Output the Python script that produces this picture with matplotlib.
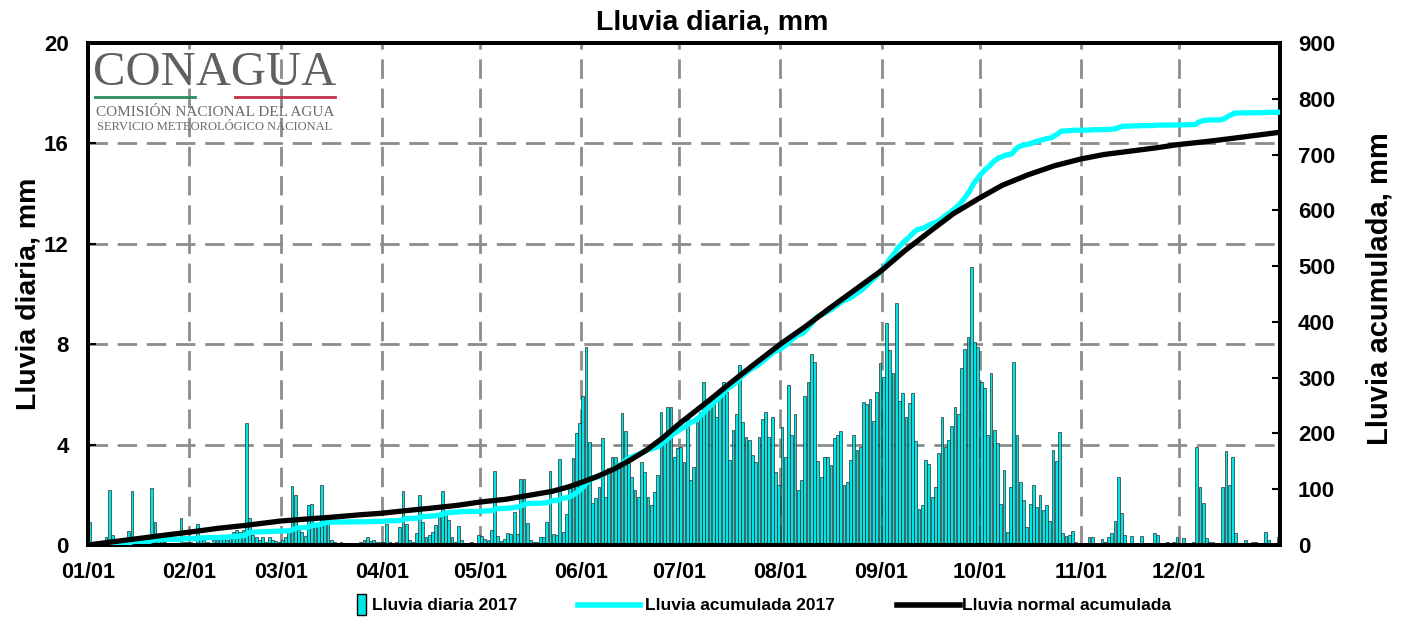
import numpy as np
import matplotlib
matplotlib.use("Agg")
import matplotlib.pyplot as plt
from matplotlib.patches import Rectangle
from matplotlib.lines import Line2D

# daily rain 2017 (mm), one list per month
JAN = [0.9, 0, 0, 0, 0.1, 0.3, 2.2, 0.4, 0, 0, 0, 0, 0.57, 2.15, 0, 0, 0, 0, 0, 2.26,
       0.93, 0.2, 0.15, 0.1, 0, 0, 0, 0, 1.09, 0.1, 0.1]
FEB = [0.1, 0, 0.84, 0.3, 0.2, 0.1, 0, 0.2, 0.2, 0.3, 0.3, 0.2, 0.3, 0.5, 0.6, 0.5,
       0.6, 4.87, 1.09, 0.4, 0.3, 0.2, 0.3, 0.1, 0.3, 0.2, 0.15, 0.1]
MAR = [0.2, 0.3, 0.6, 2.35, 2.0, 0.6, 0.5, 0.35, 1.6, 1.65, 0.8, 0.8, 2.4, 1.0, 0.85,
       0.2, 0.1, 0.05, 0.1, 0, 0.05, 0, 0.05, 0, 0.1, 0.2, 0.3, 0.15, 0.2, 0.1, 0.1]
APR = [0.1, 0.84, 0.1, 0.05, 0.1, 0.7, 2.15, 0.84, 0.2, 0.1, 0.47, 2.0, 0.93, 0.3, 0.4,
       0.5, 0.8, 1.1, 2.15, 1.2, 1.0, 0.3, 0.1, 0.77, 0.2, 0.05, 0.05, 0.1, 0.05, 0.4]
MAY = [0.36, 0.25, 0.2, 0.6, 2.95, 0.36, 0.15, 0.25, 0.48, 0.42, 1.33, 0.45, 2.63, 2.63,
       0.86, 0.2, 0.1, 0.1, 0.33, 0.3, 0.9, 2.95, 0.45, 0.4, 3.41, 0.5, 1.25, 2.26, 3.45,
       4.47, 4.87]
JUN = [5.95, 7.9, 4.12, 1.67, 1.86, 2.3, 4.25, 1.9, 3.05, 3.5, 3.5, 3.1, 5.25, 4.54, 3.25,
       2.7, 2.2, 1.9, 3.3, 2.9, 1.9, 1.6, 2.1, 2.8, 5.3, 4.05, 5.5, 5.5, 3.5, 3.85]
JUL = [3.9, 3.3, 5.0, 2.6, 3.1, 4.9, 5.3, 6.5, 5.6, 5.8, 5.9, 5.1, 6.0, 6.5, 6.1, 3.4,
       4.6, 5.2, 7.17, 4.9, 4.3, 4.2, 3.6, 3.3, 4.3, 5.0, 5.3, 4.3, 5.1, 2.9, 2.4]
AUG = [4.7, 3.5, 6.37, 4.4, 5.2, 2.2, 2.6, 5.95, 6.5, 7.6, 7.3, 3.35, 2.7, 3.5, 3.5, 3.2,
       4.25, 4.4, 4.55, 2.4, 2.5, 3.4, 4.4, 3.8, 3.9, 5.7, 5.6, 5.8, 4.96, 6.1, 7.27]
SEP = [6.7, 8.86, 7.75, 6.87, 9.65, 5.73, 6.07, 5.1, 5.67, 6.07, 4.15, 1.42, 1.6, 3.4,
       3.24, 1.9, 2.3, 3.66, 5.1, 3.9, 4.2, 4.76, 5.5, 5.2, 7.04, 7.8, 8.3, 11.06, 8.1, 7.9]
OCT = [6.5, 6.25, 4.4, 6.87, 4.6, 4.05, 1.64, 3.0, 0.5, 2.3, 7.3, 4.4, 2.5, 1.8, 0.7,
       1.64, 2.4, 1.5, 2.0, 1.4, 1.6, 0.95, 3.8, 3.35, 4.5, 0.47, 0.36, 0.4, 0.57, 0.13, 0.07]
NOV = [0.05, 0, 0.33, 0.33, 0, 0.05, 0.23, 0.13, 0.33, 0.47, 0.97, 2.7, 1.26, 0.4, 0.05,
       0.36, 0.05, 0.05, 0.36, 0.05, 0, 0, 0.47, 0.38, 0, 0, 0.1, 0.05, 0.13, 0.3]
DEC = [0, 0.26, 0, 0.05, 0.1, 3.89, 2.3, 1.67, 0.26, 0.1, 0.12, 0.06, 0, 2.3, 3.76, 2.4,
       3.5, 0.47, 0, 0, 0.2, 0, 0.13, 0.1, 0.05, 0, 0.5, 0.2, 0, 0, 0.33]

# normal accumulated rain (mm) read at day-of-year points
NORMAL_DAY = [0, 8, 16, 24, 31, 40, 48, 59, 68, 75, 83, 90, 98, 105, 113, 120, 128, 135,
              142, 147, 151, 156, 161, 166, 171, 176, 181, 186, 191, 196, 204, 212, 220,
              227, 235, 243, 250, 258, 265, 273, 280, 288, 296, 304, 311, 319, 327, 334,
              342, 349, 357, 365]
NORMAL_MM = [0, 6, 12, 18, 23, 30, 35, 43, 47, 50, 54, 57, 62, 66, 71, 77, 82, 89,
             96, 104, 112, 123, 136, 152, 170, 192, 217, 240, 263, 287, 324, 360, 393,
             424, 458, 492, 527, 563, 594, 622, 645, 664, 680, 692, 700, 706, 712, 718,
             723, 728, 734, 740]

MONTH_START = [0, 31, 59, 90, 120, 151, 181, 212, 243, 273, 304, 334]
MONTH_LABELS = ["01/01", "02/01", "03/01", "04/01", "05/01", "06/01",
                "07/01", "08/01", "09/01", "10/01", "11/01", "12/01"]

BAR_COLOR = "#00E6E6"
CUM_COLOR = "#00FFFF"
SANS = ["Liberation Sans", "DejaVu Sans"]
SERIF = ["Liberation Serif", "DejaVu Serif"]


def main():
    daily = np.array(JAN + FEB + MAR + APR + MAY + JUN + JUL + AUG + SEP + OCT + NOV + DEC)
    days = np.arange(len(daily))
    cum = np.concatenate([[0], np.cumsum(daily)])

    fig = plt.figure(figsize=(14.05, 6.17), dpi=100)
    ax = fig.add_axes([0.0626, 0.1167, 0.8484, 0.8136])

    ax.bar(days + 0.5, daily, width=0.85, color=BAR_COLOR, edgecolor="#1a1a1a",
           linewidth=0.45, zorder=2)
    ax.set_xlim(0, 365)
    ax.set_ylim(0, 20)
    ax.set_yticks(range(0, 21, 4))
    ax.set_xticks(MONTH_START)
    ax.set_xticklabels(MONTH_LABELS)
    ax.grid(True, color="#8c8c8c", linestyle=(0, (7, 3.5)), linewidth=2)
    ax.set_axisbelow(True)

    ax2 = ax.twinx()
    ax2.set_ylim(0, 900)
    ax2.set_yticks(range(0, 901, 100))
    ax2.plot(np.arange(len(cum)), cum, color=CUM_COLOR, linewidth=3.8, zorder=3)
    ax2.plot(NORMAL_DAY, NORMAL_MM, color="black", linewidth=3.8, zorder=4)

    for a in (ax, ax2):
        for s in a.spines.values():
            s.set_linewidth(2.8)
    ax.tick_params(axis="y", direction="in", length=6, width=1.5, pad=14)
    ax.tick_params(axis="x", length=0, pad=12)
    ax2.tick_params(axis="y", direction="in", length=6, width=1.5, pad=13)
    for lab in ax.get_yticklabels() + ax2.get_yticklabels():
        lab.set_fontfamily(SANS)
        lab.set_fontweight("bold")
        lab.set_fontsize(16)
    for lab in ax.get_xticklabels():
        lab.set_fontfamily(SANS)
        lab.set_fontweight("bold")
        lab.set_fontsize(15.5)

    fig.text(0.507, 0.964, "Lluvia diaria, mm", ha="center", va="center",
             family=SANS, weight="bold", fontsize=20.5)
    fig.text(0.02, 0.523, "Lluvia diaria, mm", ha="center", va="center", rotation=90,
             family=SANS, weight="bold", fontsize=20.5)
    fig.text(0.982, 0.533, "Lluvia acumulada, mm", ha="center", va="center", rotation=90,
             family=SANS, weight="bold", fontsize=21)

    # logo as text
    ax.text(0.1065, 0.940, "CONAGUA", transform=ax.transAxes, ha="center", va="center",
            family=SERIF, fontsize=35, color="#606060")
    ax.add_line(Line2D([0.006, 0.09], [0.892, 0.892], transform=ax.transAxes,
                       color="#2e8b57", linewidth=2))
    ax.add_line(Line2D([0.123, 0.207], [0.892, 0.892], transform=ax.transAxes,
                       color="#c0304a", linewidth=2))
    ax.text(0.1065, 0.862, "COMISIÓN NACIONAL DEL AGUA", transform=ax.transAxes,
            ha="center", va="center", family=SERIF, fontsize=11, color="#6a6a6a")
    ax.text(0.1065, 0.833, "SERVICIO METEOROLÓGICO NACIONAL", transform=ax.transAxes,
            ha="center", va="center", family=SERIF, fontsize=9, color="#6a6a6a")

    # legend
    fig.patches.append(Rectangle((0.2541, 0.004), 0.0064, 0.034, transform=fig.transFigure,
                                 facecolor=BAR_COLOR, edgecolor="black", linewidth=1))
    fig.text(0.2648, 0.019, "Lluvia diaria 2017", ha="left", va="center",
             family=SANS, weight="bold", fontsize=12.5)
    fig.lines.append(Line2D([0.4114, 0.4555], [0.019, 0.019], transform=fig.transFigure,
                            color=CUM_COLOR, linewidth=4))
    fig.text(0.4591, 0.019, "Lluvia acumulada 2017", ha="left", va="center",
             family=SANS, weight="bold", fontsize=12.5)
    fig.lines.append(Line2D([0.6384, 0.6833], [0.019, 0.019], transform=fig.transFigure,
                            color="black", linewidth=4))
    fig.text(0.6847, 0.019, "Lluvia normal acumulada", ha="left", va="center",
             family=SANS, weight="bold", fontsize=12.5)

    fig.savefig("out.png", dpi=100)
    plt.close(fig)


if __name__ == "__main__":
    main()
